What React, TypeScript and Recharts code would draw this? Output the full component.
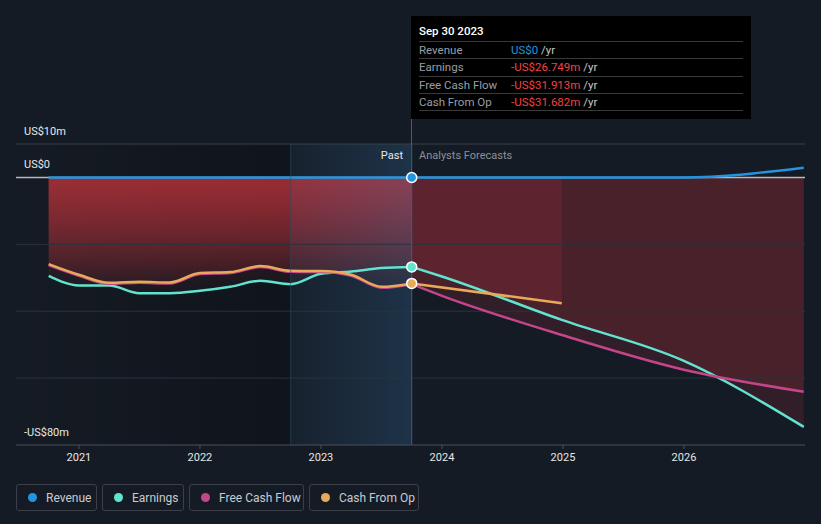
import React from 'react';
import { ComposedChart, Line, Area, XAxis, YAxis, ReferenceLine, ReferenceArea, ReferenceDot } from 'recharts';

// quarterly history, values in US$m
const pastDates = [2020.75, 2021, 2021.25, 2021.5, 2021.75, 2022, 2022.25, 2022.5, 2022.75, 2023, 2023.25, 2023.5, 2023.75];
const pastRevenue = [0, 0, 0, 0, 0, 0, 0, 0, 0, 0, 0, 0, 0];
const pastEarnings = [-29.4, -32.3, -32.3, -34.6, -34.6, -33.9, -32.7, -30.9, -31.9, -28.8, -28.1, -27.1, -26.749];
const pastFreeCashFlow = [-26.2, -29.4, -31.8, -31.5, -31.7, -28.9, -28.6, -26.8, -28.2, -28.3, -29.4, -33.0, -31.913];
const pastCashFromOp = [-25.9, -29.1, -31.5, -31.2, -31.4, -28.6, -28.3, -26.5, -27.9, -28.0, -29.1, -32.7, -31.682];

// analyst forecasts
const futureDates = [2023.75, 2024, 2024.99, 2025.99, 2026.99];
const futureRevenue = [0, 0, 0, 0, 2.9];
const futureEarnings = [-26.749, -29.6, -42.6, -54.7, -74.6];
const futureFreeCashFlow = [-31.913, -35.4, -47.1, -57.4, -64.1];
const futureCashFromOp = [-31.682, null, -37.6, null, null];

const xTicks = [2021, 2022, 2023, 2024, 2025, 2026];
const yLabels = [
  { value: 10, text: 'US$10m' },
  { value: 0, text: 'US$0' },
  { value: -80, text: '-US$80m' },
];
const gridValues = [10, -20, -40, -60];

const COLORS = {
  revenue: '#2394df',
  earnings: '#62e3cf',
  fcf: '#c4468a',
  cfo: '#e8a95a',
};
const BG = '#151b24';
const RED = '#c8343c';

const rows: any[] = pastDates.map((t, i) => ({
  t,
  revenue: pastRevenue[i],
  earningsPast: pastEarnings[i],
  fcfPast: pastFreeCashFlow[i],
  cfoPast: pastCashFromOp[i],
}));
futureDates.forEach((t, i) => {
  let row = rows.find((r) => r.t === t);
  if (!row) {
    row = { t, revenue: futureRevenue[i] };
    rows.push(row);
  }
  row.earningsFuture = futureEarnings[i];
  row.fcfFuture = futureFreeCashFlow[i];
  if (futureCashFromOp[i] !== null) row.cfoFuture = futureCashFromOp[i];
});

const lastPast = pastDates[pastDates.length - 1];
const highlightStart = pastDates[pastDates.length - 5];

const tooltipRows = [
  { label: 'Revenue', value: 'US$0', color: COLORS.revenue },
  { label: 'Earnings', value: '-US$26.749m', color: '#f04343' },
  { label: 'Free Cash Flow', value: '-US$31.913m', color: '#f04343' },
  { label: 'Cash From Op', value: '-US$31.682m', color: '#f04343' },
];

const legendItems = [
  { name: 'Revenue', color: COLORS.revenue, width: 81 },
  { name: 'Earnings', color: COLORS.earnings, width: 82 },
  { name: 'Free Cash Flow', color: COLORS.fcf, width: 115 },
  { name: 'Cash From Op', color: COLORS.cfo, width: 110 },
];

// y value -> pixel, matching the chart's plot box (top 144, bottom 445)
const PLOT_TOP = 144;
const PLOT_BOTTOM = 445;
const yPx = (v: number) => PLOT_TOP + ((10 - v) / 90) * (PLOT_BOTTOM - PLOT_TOP);

export default function App() {
  return (
    <div style={{ position: 'absolute', left: 0, top: 0, width: 821, height: 524, background: BG, fontFamily: 'Roboto, sans-serif', overflow: 'hidden' }}>
      <ComposedChart width={821} height={524} data={rows} margin={{ top: PLOT_TOP, right: 16, bottom: 524 - PLOT_BOTTOM - 30, left: 16 }}>
        <defs>
          <linearGradient id="pastRed" x1="0" y1="0" x2="0" y2="1">
            <stop offset="0%" stopColor={RED} stopOpacity={0.37} />
            <stop offset="100%" stopColor={RED} stopOpacity={0.03} />
          </linearGradient>
          <linearGradient id="darkPast" x1="0" y1="0" x2="1" y2="0">
            <stop offset="0%" stopColor="#000" stopOpacity={0} />
            <stop offset="100%" stopColor="#000" stopOpacity={0.25} />
          </linearGradient>
          <linearGradient id="highlight" x1="0" y1="0" x2="1" y2="0">
            <stop offset="0%" stopColor="#3b86c8" stopOpacity={0.06} />
            <stop offset="100%" stopColor="#3b86c8" stopOpacity={0.22} />
          </linearGradient>
        </defs>
        <XAxis
          dataKey="t"
          type="number"
          domain={[2020.48, 2027]}
          ticks={xTicks}
          tickFormatter={(v) => String(v)}
          axisLine={{ stroke: '#4b515b' }}
          tickLine={{ stroke: '#4b515b' }}
          tickSize={4}
          tickMargin={4}
          height={30}
          tick={{ fill: '#e6e6e6', fontSize: 11 }}
          allowDataOverflow
        />
        <YAxis type="number" domain={[-80, 10]} hide allowDataOverflow />

        <ReferenceArea x1={2020.48} x2={highlightStart} y1={-80} y2={10} fill="url(#darkPast)" fillOpacity={1} stroke="none" />
        {gridValues.map((v) => (
          <ReferenceLine key={v} y={v} stroke={v === 10 ? '#3a4049' : '#2c323c'} strokeWidth={1} />
        ))}

        <Area dataKey="earningsPast" type="monotone" baseValue={0} fill="url(#pastRed)" fillOpacity={1} stroke="none" isAnimationActive={false} />
        <Area dataKey="fcfPast" type="monotone" baseValue={0} fill="url(#pastRed)" fillOpacity={1} stroke="none" isAnimationActive={false} />
        <Area dataKey="cfoPast" type="monotone" baseValue={0} fill="url(#pastRed)" fillOpacity={1} stroke="none" isAnimationActive={false} />
        <Area dataKey="earningsFuture" type="monotone" baseValue={0} fill={RED} fillOpacity={0.16} stroke="none" isAnimationActive={false} />
        <Area dataKey="fcfFuture" type="monotone" baseValue={0} fill={RED} fillOpacity={0.16} stroke="none" isAnimationActive={false} />
        <Area dataKey="cfoFuture" type="monotone" baseValue={0} fill={RED} fillOpacity={0.16} stroke="none" connectNulls isAnimationActive={false} />

        <ReferenceLine y={0} stroke="#b8b8bc" strokeWidth={1.5} />

        <Line dataKey="earningsPast" type="monotone" stroke={COLORS.earnings} strokeWidth={2.5} dot={false} isAnimationActive={false} />
        <Line dataKey="fcfPast" type="monotone" stroke={COLORS.fcf} strokeWidth={2.5} dot={false} isAnimationActive={false} />
        <Line dataKey="cfoPast" type="monotone" stroke={COLORS.cfo} strokeWidth={2.5} dot={false} isAnimationActive={false} />
        <Line dataKey="earningsFuture" type="monotone" stroke={COLORS.earnings} strokeWidth={2.5} dot={false} isAnimationActive={false} />
        <Line dataKey="fcfFuture" type="monotone" stroke={COLORS.fcf} strokeWidth={2.5} dot={false} isAnimationActive={false} />
        <Line dataKey="cfoFuture" type="monotone" stroke={COLORS.cfo} strokeWidth={2.5} dot={false} connectNulls isAnimationActive={false} />
        <Line dataKey="revenue" type="monotone" stroke={COLORS.revenue} strokeWidth={2.5} dot={false} isAnimationActive={false} />

        <ReferenceArea x1={highlightStart} x2={lastPast} y1={-80} y2={10} fill="url(#highlight)" fillOpacity={1} stroke="none" />
        <ReferenceLine x={highlightStart} stroke="#2a4c66" strokeOpacity={0.6} strokeWidth={1} />
        <ReferenceLine x={lastPast} stroke="#3d5f80" strokeWidth={1} />

        <ReferenceDot x={lastPast} y={pastEarnings[pastEarnings.length - 1]} r={5} fill={COLORS.earnings} stroke="#fff" strokeWidth={1.5} />
        <ReferenceDot x={lastPast} y={pastCashFromOp[pastCashFromOp.length - 1]} r={5} fill={COLORS.cfo} stroke="#fff" strokeWidth={1.5} />
        <ReferenceDot x={lastPast} y={pastRevenue[pastRevenue.length - 1]} r={5} fill={COLORS.revenue} stroke="#fff" strokeWidth={1.5} />
      </ComposedChart>

      {yLabels.map((l) => (
        <div key={l.text} style={{ position: 'absolute', left: 24, top: yPx(l.value) - 19, height: 14, lineHeight: '14px', fontSize: 11, color: '#e8e8e8' }}>
          {l.text}
        </div>
      ))}

      <div style={{ position: 'absolute', left: 411, top: 119, width: 1, height: 25, background: '#3d5f80' }} />

      <div style={{ position: 'absolute', right: 418, top: 149, fontSize: 11, color: '#e8e8e8' }}>Past</div>
      <div style={{ position: 'absolute', left: 419, top: 149, fontSize: 11, color: '#8a9099' }}>Analysts Forecasts</div>

      <div style={{ position: 'absolute', left: 411, top: 16, width: 340, height: 103, background: '#000' }}>
        <div style={{ position: 'absolute', left: 8, top: 8, fontSize: 11.5, fontWeight: 500, color: '#fff' }}>Sep 30 2023</div>
        {tooltipRows.map((r, i) => (
          <div key={r.label} style={{ position: 'absolute', left: 8, top: 25 + i * 17.3, width: 324, height: 17, borderTop: '1px solid #3a3a3a', fontSize: 11.5, lineHeight: '17px' }}>
            <span style={{ position: 'absolute', left: 0, color: '#9a9ea4' }}>{r.label}</span>
            <span style={{ position: 'absolute', left: 92, color: r.color, whiteSpace: 'nowrap' }}>
              {r.value} <span style={{ color: '#c8c8c8' }}>/yr</span>
            </span>
          </div>
        ))}
        <div style={{ position: 'absolute', left: 8, top: 94, width: 324, borderTop: '1px solid #3a3a3a' }} />
      </div>

      <div style={{ position: 'absolute', left: 16, top: 484, display: 'flex', gap: 5 }}>
        {legendItems.map((item) => (
          <div key={item.name} style={{ width: item.width, height: 27, boxSizing: 'border-box', border: '1px solid #3a3f48', borderRadius: 3, display: 'flex', alignItems: 'center', paddingLeft: 11, fontSize: 12, color: '#c8cbd0' }}>
            <span style={{ width: 9, height: 9, borderRadius: '50%', background: item.color, marginRight: 9, flexShrink: 0 }} />
            {item.name}
          </div>
        ))}
      </div>
    </div>
  );
}
